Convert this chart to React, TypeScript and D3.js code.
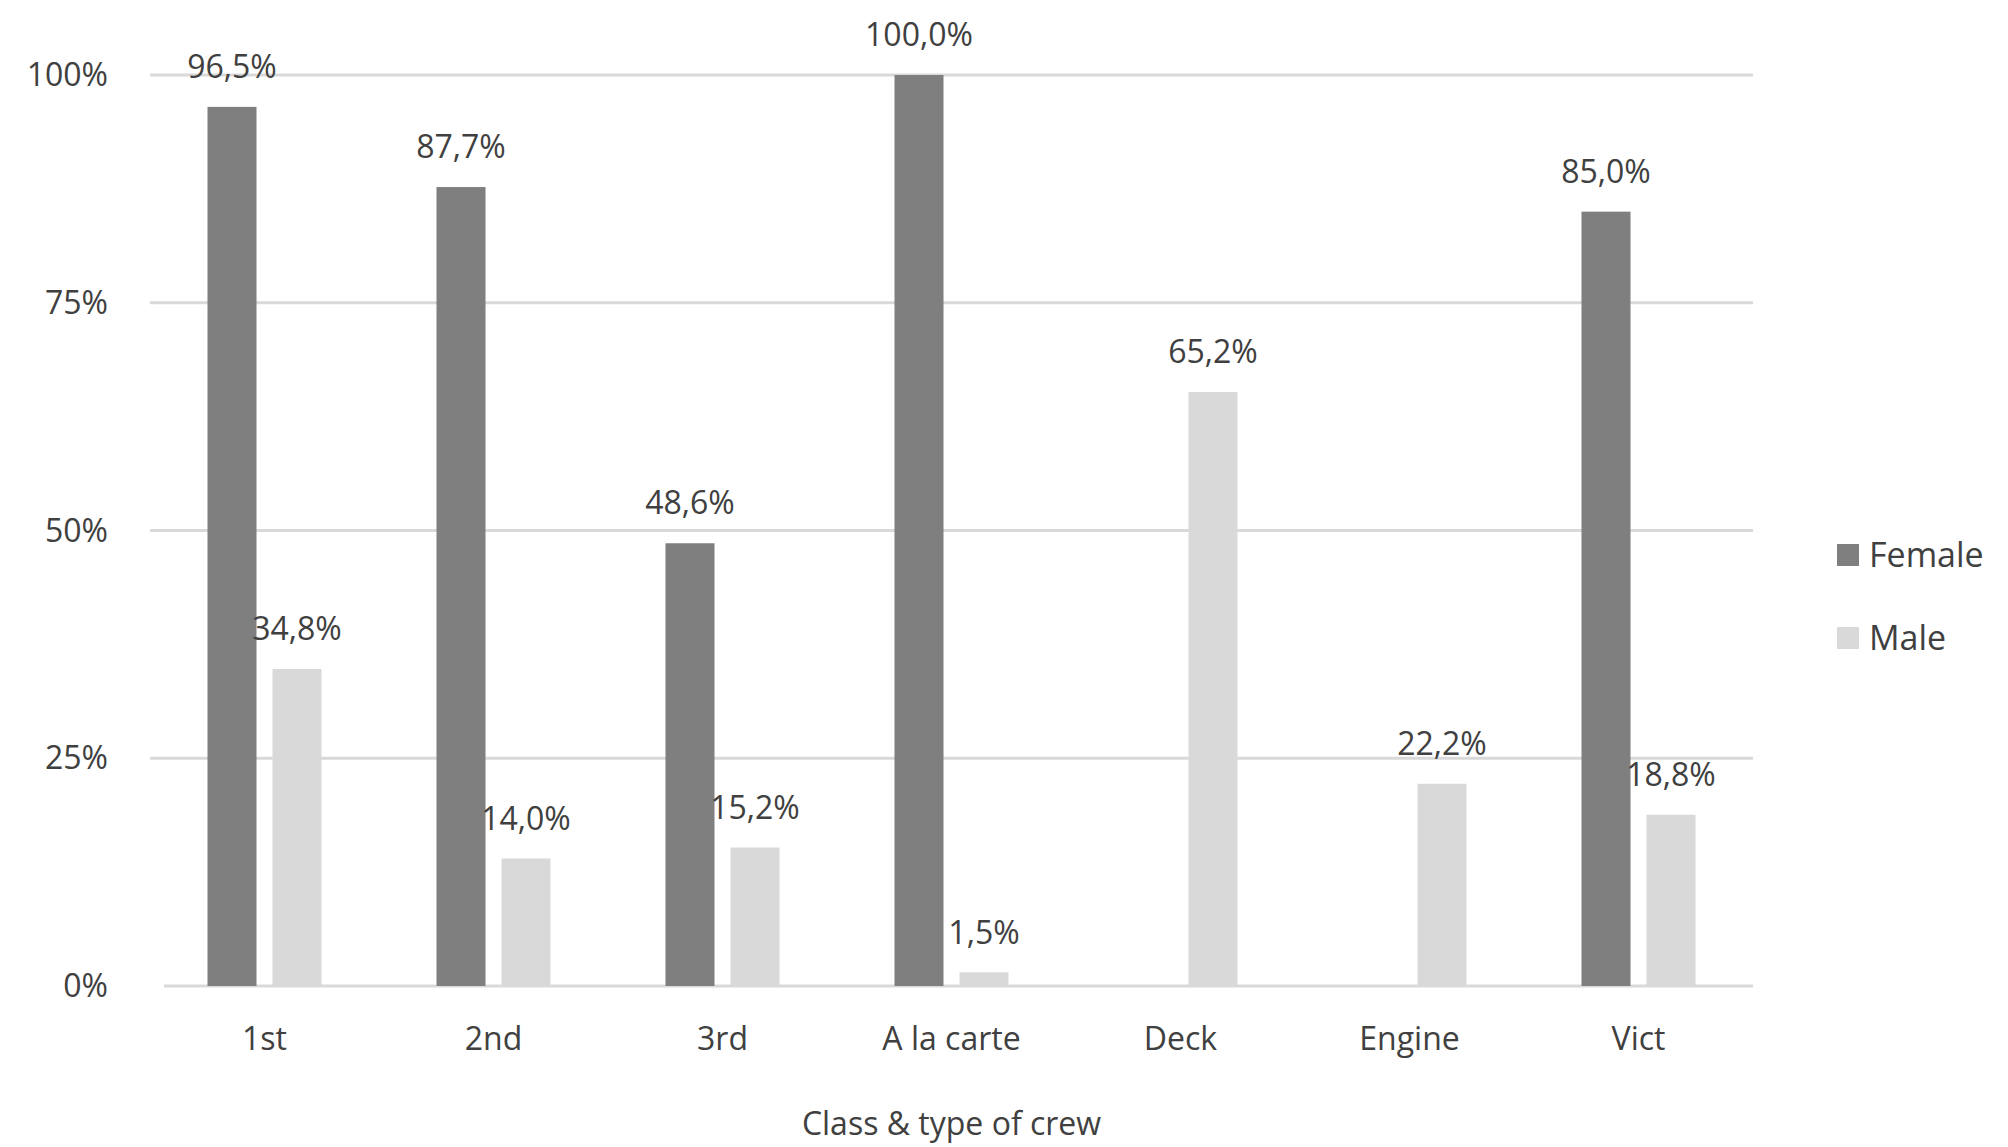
import React from 'react';
import * as d3 from 'd3';

const categories = ['1st', '2nd', '3rd', 'A la carte', 'Deck', 'Engine', 'Vict'];
const female = [96.5, 87.7, 48.6, 100.0, 0, 0, 85.0];
const male = [34.8, 14.0, 15.2, 1.5, 65.2, 22.2, 18.8];
const yTicks = [0, 25, 50, 75, 100];

const W = 2008;
const H = 1147;
const margin = { left: 150, right: 255, top: 75, bottom: 161 };
const font = '"Open Sans", sans-serif';
const txt = '#404040';

const App = () => {
  const x = d3
    .scaleBand()
    .domain(categories)
    .range([margin.left, W - margin.right]);
  const y = d3
    .scaleLinear()
    .domain([0, 100])
    .range([H - margin.bottom, margin.top]);
  const bw = 49;
  const fmt = (v: number) => v.toFixed(1).replace('.', ',') + '%';

  const series = [
    { name: 'Female', values: female, color: '#7f7f7f', dx: -57 },
    { name: 'Male', values: male, color: '#d9d9d9', dx: 8 },
  ];

  return (
    <svg width={W} height={H} style={{ position: 'absolute', left: 0, top: 0 }}>
      <rect width={W} height={H} fill="#fff" />
      {yTicks.map((t) => (
        <g key={t}>
          <line
            x1={t === 0 ? margin.left + 14 : margin.left}
            x2={W - margin.right}
            y1={y(t)}
            y2={y(t)}
            stroke="#d9d9d9"
            strokeWidth={3}
          />
          <text x={108} y={y(t)} dy="0.35em" textAnchor="end" fontFamily={font} fontSize={32} fill={txt}>
            {t}%
          </text>
        </g>
      ))}
      {series.map((s) =>
        s.values.map((v, i) => {
          const cx = (x(categories[i]) as number) + x.bandwidth() / 2 + s.dx;
          return (
            <g key={s.name + i}>
              {v > 0 && (
                <rect x={cx} y={y(v)} width={bw} height={y(0) - y(v)} fill={s.color} />
              )}
              {v > 0 && (
                <text x={cx + bw / 2} y={y(v) - 40} dy="0.35em" textAnchor="middle" fontFamily={font} fontSize={32} fill={txt}>
                  {fmt(v)}
                </text>
              )}
            </g>
          );
        }),
      )}
      {categories.map((c) => (
        <text key={c} x={(x(c) as number) + x.bandwidth() / 2} y={1039} dy="0.35em" textAnchor="middle" fontFamily={font} fontSize={32} fill={txt}>
          {c}
        </text>
      ))}
      <text x={(margin.left + W - margin.right) / 2} y={1124} dy="0.35em" textAnchor="middle" fontFamily={font} fontSize={32} fill={txt}>
        Class &amp; type of crew
      </text>
      {series.map((s, i) => (
        <g key={s.name} transform={`translate(1837,${555 + i * 83})`}>
          <rect x={0} y={-11} width={22} height={22} fill={s.color} />
          <text x={32} y={0} dy="0.35em" fontFamily={font} fontSize={34} fill={txt}>
            {s.name}
          </text>
        </g>
      ))}
    </svg>
  );
};

export default App;
